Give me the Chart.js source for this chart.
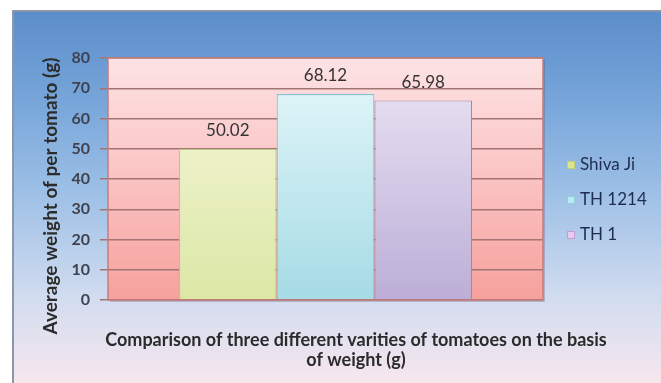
<!DOCTYPE html>
<html><head><meta charset="utf-8">
<script src="https://cdn.jsdelivr.net/npm/chart.js@4.4.1/dist/chart.umd.min.js"></script>
<style>html,body{margin:0;padding:0;background:#fff;overflow:hidden}#wrap{width:661px;height:383px;position:relative}</style>
</head><body><div id="wrap"><canvas id="c" width="661" height="383"></canvas></div>
<script>
// ---- data ----
const categories = [''];
const seriesNames = ['Shiva Ji', 'TH 1214', 'TH 1'];
const shivaJi = [50.02];
const th1214 = [68.12];
const th1 = [65.98];
const yMin = 0, yMax = 80, yStep = 10;
const yTitle = 'Average weight of per tomato (g)';
const xTitle = ['Comparison of three different varities of tomatoes on the basis', 'of weight (g)'];

// ---- styles ----
const barTop = ['#f6f7dc', '#e6f8fb', '#ede6f5'];
const barBottom = ['#dce7a6', '#a6dbe5', '#bcaed7'];
const barBorder = ['#b9c68a', '#7fc6d4', '#9a88b8'];
const legendFill = ['#dbe78e', '#bdeaf2', '#e6cdee'];
const legendStroke = ['#c4d070', '#8fd0dc', '#c69ad4'];

function vgrad(top, bottom) {
  return (ctx) => {
    const ca = ctx.chart.chartArea;
    if (!ca) return bottom;
    const g = ctx.chart.ctx.createLinearGradient(0, ca.top, 0, ca.bottom);
    g.addColorStop(0, top); g.addColorStop(1, bottom);
    return g;
  };
}

const bgPlugin = {
  id: 'bg',
  beforeDraw(chart) {
    const {ctx, width, height, chartArea: ca} = chart;
    ctx.save();
    ctx.fillStyle = '#ffffff';
    ctx.fillRect(0, 0, width, height);
    const g = ctx.createLinearGradient(0, 10, 0, height);
    g.addColorStop(0, '#5b8dca');
    g.addColorStop(0.25, '#78a6da');
    g.addColorStop(0.5, '#9fc1e6');
    g.addColorStop(0.78, '#d3ddf0');
    g.addColorStop(1, '#f8e6ee');
    ctx.fillStyle = g;
    ctx.fillRect(12, 10, width - 12, height - 10);
    ctx.strokeStyle = '#8c98aa';
    ctx.lineWidth = 2;
    ctx.beginPath();
    ctx.moveTo(13, height); ctx.lineTo(13, 11); ctx.lineTo(width, 11);
    ctx.stroke();
    // plot area shadow + fill
    ctx.fillStyle = 'rgba(90,60,80,0.25)';
    ctx.fillRect(ca.left + 2, ca.top + 2, ca.right - ca.left, ca.bottom - ca.top);
    const pg = ctx.createLinearGradient(0, ca.top, 0, ca.bottom);
    pg.addColorStop(0, '#fde3e4');
    pg.addColorStop(0.45, '#fbc6c6');
    pg.addColorStop(1, '#f6a19c');
    ctx.fillStyle = pg;
    ctx.fillRect(ca.left, ca.top, ca.right - ca.left, ca.bottom - ca.top);
    ctx.restore();
  },
  afterDraw(chart) {
    const {ctx, chartArea: ca} = chart;
    ctx.save();
    ctx.strokeStyle = '#c57d7d';
    ctx.lineWidth = 1.5;
    ctx.strokeRect(ca.left, ca.top, ca.right - ca.left, ca.bottom - ca.top);
    // titles
    ctx.fillStyle = '#2b2b2b';
    ctx.font = 'bold 18px Lato';
    ctx.textAlign = 'center';
    ctx.textBaseline = 'middle';
    ctx.fillText(xTitle[0], 356, 340);
    ctx.fillText(xTitle[1], 356, 360);
    ctx.font = 'bold 19px Lato';
    ctx.translate(51, 196);
    ctx.rotate(-Math.PI / 2);
    ctx.fillText(yTitle, 0, 0);
    ctx.restore();
    // legend
    ctx.save();
    ctx.font = '17px Lato';
    ctx.textAlign = 'left';
    ctx.textBaseline = 'middle';
    chart.data.datasets.forEach((ds, i) => {
      const y = 165 + i * 35;
      ctx.fillStyle = legendFill[i];
      ctx.fillRect(567, y - 4, 8, 8);
      ctx.strokeStyle = legendStroke[i];
      ctx.lineWidth = 1;
      ctx.strokeRect(567.5, y - 3.5, 7, 7);
      ctx.fillStyle = '#1e2c50';
      ctx.fillText(ds.label, 580, y);
    });
    ctx.restore();
  },
  afterDatasetsDraw(chart) {
    const {ctx} = chart;
    ctx.save();
    ctx.font = '17px Lato';
    ctx.fillStyle = '#333333';
    ctx.textAlign = 'center';
    ctx.textBaseline = 'middle';
    chart.data.datasets.forEach((ds, i) => {
      const meta = chart.getDatasetMeta(i);
      meta.data.forEach((bar, j) => {
        ctx.fillText(ds.data[j].toFixed(2), bar.x, bar.y - 18);
      });
    });
    ctx.restore();
  }
};

const seriesData = [shivaJi, th1214, th1];
new Chart(document.getElementById('c'), {
  type: 'bar',
  data: {
    labels: categories,
    datasets: seriesNames.map((n, i) => ({
      label: n,
      data: seriesData[i],
      backgroundColor: vgrad(barTop[i], barBottom[i]),
      borderColor: barBorder[i],
      borderWidth: 1.2,
      categoryPercentage: 0.674,
      barPercentage: 1
    }))
  },
  options: {
    responsive: false,
    animation: false,
    devicePixelRatio: 1,
    layout: {padding: {left: 40, top: 58, right: 118, bottom: 0}},
    plugins: {legend: {display: false}, tooltip: {enabled: false}},
    scales: {
      x: {
        grid: {display: false},
        border: {display: false},
        ticks: {display: false},
        afterFit(s) { s.height = 83; }
      },
      y: {
        min: yMin, max: yMax,
        ticks: {stepSize: yStep, padding: 10, color: '#3e4250', font: {family: 'Lato', size: 16, weight: 'bold'}},
        grid: {color: '#a27473', lineWidth: 1.5, tickLength: 8},
        border: {display: false},
        afterFit(s) { s.width = 68; }
      }
    }
  },
  plugins: [bgPlugin]
});
</script>
</body></html>
